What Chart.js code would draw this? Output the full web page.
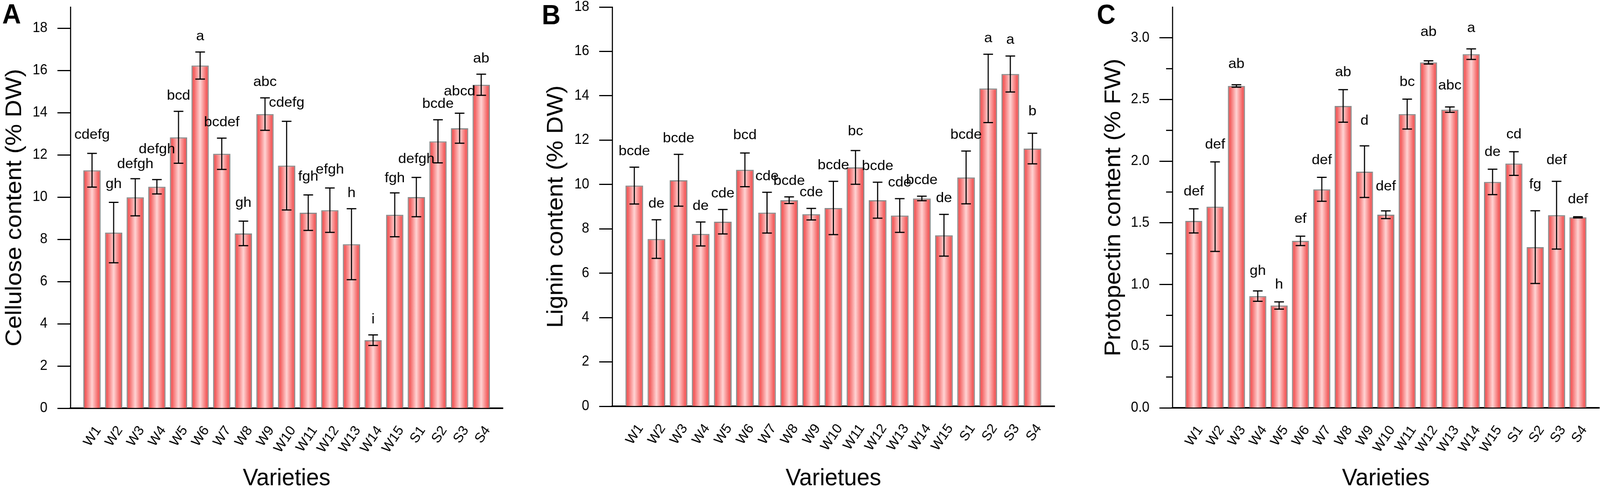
<!DOCTYPE html>
<html>
<head>
<meta charset="utf-8">
<script src="https://cdn.jsdelivr.net/npm/chart.js@4.4.1/dist/chart.umd.min.js"></script>
<style>
html, body { margin: 0; padding: 0; background: #fff; overflow: hidden; }
body { position: relative; width: 100vw; height: 100vh; }
canvas { position: absolute; top: 0; }
</style>
</head>
<body>
<canvas id="chartA" width="1440" height="1248"></canvas>
<canvas id="chartB" width="1437" height="1248"></canvas>
<canvas id="chartC" width="1440" height="1248"></canvas>
<script>
// varieties on the x axis
var varieties = ['W1','W2','W3','W4','W5','W6','W7','W8','W9','W10','W11','W12','W13','W14','W15','S1','S2','S3','S4'];

// A: cellulose (% DW)
var celluloseMean = [11.27, 8.32, 9.99, 10.49, 12.83, 16.23, 12.05, 8.28, 13.93, 11.49, 9.26, 9.38, 7.77, 3.22, 9.16, 10.00, 12.64, 13.26, 15.32];
var celluloseSd   = [0.80, 1.43, 0.88, 0.34, 1.23, 0.64, 0.74, 0.58, 0.77, 2.10, 0.84, 1.05, 1.68, 0.25, 1.04, 0.93, 1.02, 0.71, 0.50];
var celluloseSig  = ['cdefg','gh','defgh','defgh','bcd','a','bcdef','gh','abc','cdefg','fgh','efgh','h','i','fgh','defgh','bcde','abcd','ab'];

// B: lignin (% DW)
var ligninMean = [9.95, 7.54, 10.19, 7.77, 8.32, 10.66, 8.73, 9.29, 8.66, 8.94, 10.77, 9.29, 8.60, 9.37, 7.71, 10.32, 14.33, 14.98, 11.62];
var ligninSd   = [0.83, 0.87, 1.17, 0.54, 0.55, 0.76, 0.92, 0.15, 0.26, 1.20, 0.76, 0.81, 0.76, 0.10, 0.94, 1.19, 1.54, 0.81, 0.69];
var ligninSig  = ['bcde','de','bcde','de','cde','bcd','cde','bcde','cde','bcde','bc','bcde','cde','bcde','de','bcde','a','a','b'];

// C: protopectin (% FW)
var pectinMean = [1.516, 1.631, 2.610, 0.906, 0.830, 1.354, 1.772, 2.448, 1.915, 1.566, 2.382, 2.801, 2.418, 2.868, 1.832, 1.981, 1.303, 1.562, 1.545];
var pectinSd   = [0.098, 0.363, 0.010, 0.042, 0.029, 0.038, 0.097, 0.132, 0.209, 0.031, 0.121, 0.013, 0.022, 0.043, 0.103, 0.096, 0.295, 0.275, 0.005];
var pectinSig  = ['def','def','ab','gh','h','ef','def','ab','d','def','bc','ab','abc','a','de','cd','fg','def','def'];

var FONT = '"Liberation Sans", Arial, sans-serif';
var PAGE_W = 4317, PAGE_H = 1248;

// fit the three panels into whatever window we get
var sx = (window.innerWidth || PAGE_W) / PAGE_W;
var sy = (window.innerHeight || PAGE_H) / PAGE_H;
[['chartA', 0, 1440], ['chartB', 1440, 1437], ['chartC', 2877, 1440]].forEach(function(c) {
  var el = document.getElementById(c[0]);
  el.style.left = (c[1] * sx) + 'px';
  el.style.width = (c[2] * sx) + 'px';
  el.style.height = (PAGE_H * sy) + 'px';
});

function barFill(c) {
  var chart = c.chart;
  var xs = chart.scales.x;
  if (!chart.chartArea || !xs || c.type !== 'data') return '#f47070';
  var cx = xs.getPixelForValue(c.dataIndex);
  var half = (xs.getPixelForValue(1) - xs.getPixelForValue(0)) * 0.8 / 2;
  var g = chart.ctx.createLinearGradient(cx - half, 0, cx + half, 0);
  g.addColorStop(0, '#ec5252');
  g.addColorStop(0.14, '#f46262');
  g.addColorStop(0.5, '#ffd4d4');
  g.addColorStop(0.86, '#f46262');
  g.addColorStop(1, '#ec5252');
  return g;
}

var extras = {
  id: 'extras',
  afterDatasetsDraw: function(chart, args, o) {
    var ctx = chart.ctx, xs = chart.scales.x, ys = chart.scales.y;
    ctx.save();
    ctx.strokeStyle = '#000';
    ctx.fillStyle = '#000';
    ctx.lineWidth = 3;
    ctx.font = '35px ' + FONT;
    ctx.textAlign = 'center';
    ctx.textBaseline = 'alphabetic';
    for (var k = 0; k < o.mean.length; k++) {
      var x = xs.getPixelForValue(k + 1);
      var hi = ys.getPixelForValue(o.mean[k] + o.sd[k]);
      var lo = ys.getPixelForValue(o.mean[k] - o.sd[k]);
      ctx.beginPath();
      ctx.moveTo(x, hi); ctx.lineTo(x, lo);
      ctx.moveTo(x - 13, hi); ctx.lineTo(x + 13, hi);
      ctx.moveTo(x - 13, lo); ctx.lineTo(x + 13, lo);
      ctx.stroke();
      // significance letters sit a fixed gap above the whisker
      var desc = Math.max(0, ctx.measureText(o.letters[k]).actualBoundingBoxDescent || 0);
      var lift = (o.lift && o.lift[k]) || 0;
      ctx.save();
      ctx.translate(x, hi - o.gap - desc - lift);
      ctx.scale(1.12, 1);
      ctx.fillText(o.letters[k], 0, 0);
      ctx.restore();
    }
    ctx.restore();
  },
  afterDraw: function(chart, args, o) {
    var ctx = chart.ctx, xs = chart.scales.x, ys = chart.scales.y, area = chart.chartArea;
    ctx.save();
    ctx.fillStyle = '#000';
    ctx.strokeStyle = '#000';

    // minor ticks
    if (o.minor) {
      ctx.lineWidth = 3;
      for (var v = o.minor; v < ys.max; v += o.minor * 2) {
        var py = ys.getPixelForValue(v);
        ctx.beginPath();
        ctx.moveTo(area.left - 17, py);
        ctx.lineTo(area.left, py);
        ctx.stroke();
      }
    }

    // rotated category labels, anchored at their right end
    ctx.font = '36px ' + FONT;
    ctx.textAlign = 'right';
    ctx.textBaseline = 'middle';
    var labels = chart.data.labels;
    for (var i = 0; i < labels.length; i++) {
      if (!labels[i]) continue;
      var x = xs.getPixelForValue(i);
      ctx.save();
      ctx.translate(x + 17, area.bottom + 50);
      ctx.rotate(-55 * Math.PI / 180);
      ctx.fillText(labels[i], 0, 0);
      ctx.restore();
    }

    // axis titles
    ctx.font = '62px ' + FONT;
    ctx.textAlign = 'center';
    ctx.textBaseline = 'alphabetic';
    ctx.fillText(o.xTitle, (area.left + area.right) / 2, 1241);
    ctx.save();
    ctx.translate(o.yTitleX, (area.top + area.bottom) / 2);
    ctx.rotate(-Math.PI / 2);
    ctx.fillText(o.yTitle, 0, 0);
    ctx.restore();

    // panel tag
    ctx.font = 'bold 70px ' + FONT;
    ctx.textAlign = 'left';
    ctx.fillText(o.tag, o.tagX, o.tagY);
    ctx.restore();
  }
};

function makeChart(id, p) {
  return new Chart(document.getElementById(id), {
    type: 'bar',
    data: {
      labels: [''].concat(varieties, ['']),
      datasets: [{
        data: [null].concat(p.mean, [null]),
        backgroundColor: barFill,
        borderColor: '#8a8a8a',
        borderWidth: 3,
        barPercentage: 0.8,
        categoryPercentage: 1
      }]
    },
    options: {
      responsive: false,
      animation: false,
      devicePixelRatio: 1,
      layout: { padding: { left: 0, top: 18, right: p.padRight, bottom: 0 } },
      plugins: {
        legend: { display: false },
        tooltip: { enabled: false },
        extras: {
          mean: p.mean, sd: p.sd, letters: p.letters, gap: p.gap, lift: p.lift,
          xTitle: p.xTitle, yTitle: p.yTitle, yTitleX: p.yTitleX,
          tag: p.tag, tagX: p.tagX, tagY: p.tagY, minor: p.minor
        }
      },
      scales: {
        x: {
          offset: false,
          z: 1,
          grid: { display: false },
          ticks: { display: false },
          border: { color: '#000', width: 4 },
          afterFit: function(s) { s.height = PAGE_H - p.bottom; s.paddingLeft = 0; s.paddingRight = 0; }
        },
        y: {
          min: 0,
          max: p.max,
          ticks: {
            stepSize: p.step,
            includeBounds: false,
            color: '#000',
            padding: 27,
            font: { family: FONT, size: 36 },
            callback: function(v) { return p.decimals ? v.toFixed(p.decimals) : String(v); }
          },
          grid: { drawOnChartArea: false, tickLength: 35, tickWidth: 3, tickColor: '#000' },
          border: { color: '#000', width: 3 },
          afterFit: function(s) { s.width = p.axisX; s.paddingTop = 0; s.paddingBottom = 0; }
        }
      }
    },
    plugins: [extras]
  });
}

makeChart('chartA', {
  mean: celluloseMean, sd: celluloseSd, letters: celluloseSig, gap: 30,
  lift: { 2: -10, 3: 30, 14: -10, 17: 16 },
  max: 19, step: 2, decimals: 0, axisX: 190, padRight: 83, bottom: 1044,
  xTitle: 'Varieties', yTitle: 'Cellulose content (% DW)', yTitleX: 57,
  tag: 'A', tagX: 6, tagY: 60
});
makeChart('chartB', {
  mean: ligninMean, sd: ligninSd, letters: ligninSig, gap: 31,
  lift: { 5: 4, 10: 8, 18: 15 },
  max: 18, step: 2, decimals: 0, axisX: 212, padRight: 32, bottom: 1039,
  xTitle: 'Varietues', yTitle: 'Lignin content (% DW)', yTitleX: 78,
  tag: 'B', tagX: 22, tagY: 62
});
makeChart('chartC', {
  mean: pectinMean, sd: pectinSd, letters: pectinSig, gap: 34,
  lift: { 2: 9, 8: 20, 9: 18, 11: 30, 12: 10, 13: 9, 16: 16, 17: 10 },
  max: 3.25, step: 0.5, decimals: 1, axisX: 286, padRight: 2, bottom: 1043,
  xTitle: 'Varieties', yTitle: 'Protopectin content (% FW)', yTitleX: 145,
  tag: 'C', tagX: 82, tagY: 61, minor: 0.25
});
</script>
</body>
</html>
